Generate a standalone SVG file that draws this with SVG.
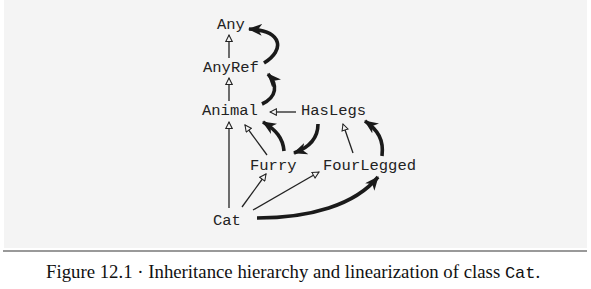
<svg xmlns="http://www.w3.org/2000/svg" width="591" height="289" viewBox="0 0 591 289">
  <style>
    .cls { font-family: "Liberation Mono", "DejaVu Sans Mono", monospace; font-size: 15.5px; fill: #222; }
    .inh { fill: none; stroke: #222; stroke-width: 1.3; marker-end: url(#open); }
    .lin { fill: none; stroke: #1a1a1a; stroke-width: 3.6; stroke-linecap: butt; marker-end: url(#solid); }
    .cap { font-family: "Liberation Serif", "Times New Roman", serif; font-size: 18.8px; fill: #111; }
    .capm { font-family: "Liberation Mono", "DejaVu Sans Mono", monospace; font-size: 17px; }
  </style>
  <defs>
    <!-- open triangle for "extends" edges -->
    <marker id="open" viewBox="0 0 10 10" refX="9" refY="5" markerWidth="8" markerHeight="8" markerUnits="userSpaceOnUse" orient="auto">
      <path d="M1,1 L9,5 L1,9 z" fill="#f4f4f4" stroke="#222" stroke-width="1.3"/>
    </marker>
    <!-- barbed head for the linearization chain -->
    <marker id="solid" viewBox="0 0 14 12" refX="13" refY="6" markerWidth="14" markerHeight="12" markerUnits="userSpaceOnUse" orient="auto">
      <path d="M0,0 L14,6 L0,12 L4,6 z" fill="#1a1a1a"/>
    </marker>
  </defs>

  <rect x="4" y="0" width="583" height="248" fill="#f4f4f4"/>
  <line x1="3" y1="251" x2="587" y2="251" stroke="#777" stroke-width="1.6"/>

  <g id="connectors">
    <path class="inh" d="M229,58 L229,35"/>
    <path class="inh" d="M229,101 L229,78"/>
    <path class="inh" d="M229,208 L229,122"/>
    <path class="inh" d="M296,112 L270,112"/>
    <path class="inh" d="M267,155 L245,125"/>
    <path class="inh" d="M353,153 L343,124"/>
    <path class="inh" d="M242,207 L266,174"/>
    <path class="inh" d="M253,210 L319,172"/>

    <path class="lin" d="M264,63 C285,50 283,31 249,29"/>
    <path class="lin" d="M262,104 C277,97 278,85 268,74"/>
    <path class="lin" d="M284,151 C283,138 276,130 263,122"/>
    <path class="lin" d="M318,124 C318,140 308,148 294,153"/>
    <path class="lin" d="M382,156 C384,140 378,130 365,121"/>
    <path class="lin" d="M257,218 C310,218 355,205 378,177"/>
  </g>

  <g id="Any"><text class="cls" x="217" y="29">Any</text></g>
  <g id="AnyRef"><text class="cls" x="203" y="72">AnyRef</text></g>
  <g id="Animal"><text class="cls" x="202" y="115">Animal</text></g>
  <g id="HasLegs"><text class="cls" x="301" y="115">HasLegs</text></g>
  <g id="Furry"><text class="cls" x="250" y="170">Furry</text></g>
  <g id="FourLegged"><text class="cls" x="323" y="170">FourLegged</text></g>
  <g id="Cat"><text class="cls" x="213" y="225">Cat</text></g>

  <text class="cap" x="46" y="278">Figure 12.1 · Inheritance hierarchy and linearization of class <tspan class="capm">Cat</tspan>.</text>
</svg>
